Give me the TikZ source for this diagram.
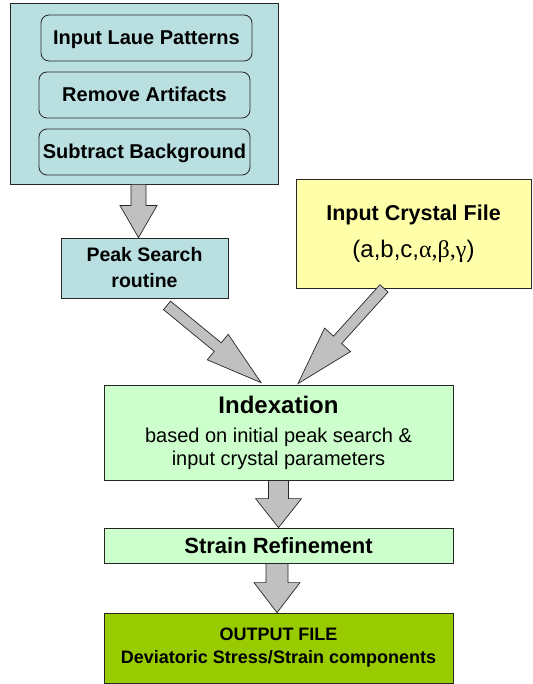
\documentclass[tikz,border=0pt]{standalone}
\usepackage{fontspec}
\setmainfont{Liberation Sans}
\newfontfamily\greekfont{Liberation Serif}
\usetikzlibrary{calc,positioning}
\definecolor{prepblue}{RGB}{185,223,225}
\definecolor{crystalyellow}{RGB}{255,255,170}
\definecolor{stepgreen}{RGB}{204,255,204}
\definecolor{outgreen}{RGB}{153,204,0}
\definecolor{arrowgray}{RGB}{192,192,192}
\tikzset{
    box/.style={draw=black!85,line width=0.8pt,inner sep=0pt,align=center},
    prepbox/.style={box,fill=prepblue,minimum width=268pt,minimum height=181pt},
    substep/.style={box,fill=prepblue,rounded corners=8pt,minimum width=211pt,minimum height=46pt,
        text height=15pt,text depth=1pt,font=\fontsize{20}{24}\selectfont\bfseries},
    peakbox/.style={box,fill=prepblue,minimum width=167pt,minimum height=60pt,
        font=\fontsize{19.5}{26}\selectfont\bfseries},
    crystalbox/.style={box,fill=crystalyellow,minimum width=235pt,minimum height=109pt,
        font=\fontsize{24}{30}\selectfont},
    stepbox/.style={box,fill=stepgreen,minimum width=349pt},
    outbox/.style={box,fill=outgreen,minimum width=349pt,minimum height=70pt,
        font=\fontsize{18}{23}\selectfont\bfseries},
    fatarrow/.style={draw=black!85,line width=0.7pt,fill=arrowgray,line join=miter},
}
% block arrow: from, to, half shaft, half head, head length
\newcommand{\blockarrow}[5]{%
    \draw[fatarrow] ($(#1)!#3!90:(#2)$) -- ($(#2)!#5!(#1)!#3!-90:(#1)$)
        -- ($(#2)!#5!(#1)!#4!-90:(#1)$) -- (#2)
        -- ($(#2)!#5!(#1)!#4!90:(#1)$) -- ($(#2)!#5!(#1)!#3!90:(#1)$)
        -- ($(#1)!#3!-90:(#2)$) -- cycle;
}

\begin{document}
\begin{tikzpicture}[x=1pt,y=-1pt]
                \useasboundingbox (0,0) rectangle (532,684);
                \node[prepbox] (prep) at (144,93.5) {};
                \node[substep] (laue) at (146.5,38) {Input Laue Patterns};
                \node[substep] (artifacts) at (144.5,95) {Remove Artifacts};
                \node[substep] (background) at (144.5,152) {Subtract Background};
                \node[peakbox] (peak) at (144.5,268) {Peak Search\\routine};
                \node[crystalbox] (crystal) at (413.5,233.5)
                    {{\fontsize{21.5}{26}\selectfont\bfseries Input Crystal File}\\[7pt]
                     (a,b,c,{\greekfont α,β,γ})};
                \node[stepbox,minimum height=95pt,font=\fontsize{20}{23}\selectfont] (index) at (278.5,432.5)
                    {{\fontsize{24}{29}\selectfont\bfseries Indexation}\\[6pt]
                     based on initial peak search \&\\
                     input crystal parameters};
                \node[stepbox,minimum height=35pt,font=\fontsize{22}{26}\selectfont\bfseries] (strain) at (278.5,545.5)
                    {Strain Refinement};
                \node[outbox] (output) at (278.5,648)
                    {OUTPUT FILE\\Deviatoric Stress/Strain components};
                % arrow ends
                \coordinate (prepout) at ($(prep.south)+(-5.5,0)$);
                \coordinate (peakin) at (prepout |- peak.north);
                \coordinate (peakout) at ($(peak.south)+(22.5,7)$);
                \coordinate (crystalout) at ($(crystal.south)+(-29.5,0)$);
                \coordinate (indexinl) at ($(index.north)+(-17.5,-2)$);
                \coordinate (indexinr) at ($(index.north)+(19.5,-1)$);
                \coordinate (indexout) at (index.south);
                \coordinate (strainin) at (index.south |- strain.north);
                \coordinate (strainout) at ($(strain.south)+(-1.5,0)$);
                \coordinate (outputin) at (strainout |- output.north);
                \blockarrow{prepout}{peakin}{7.5pt}{18.5pt}{32pt}
                \blockarrow{peakout}{indexinl}{5.5pt}{16.5pt}{56pt}
                \blockarrow{crystalout}{indexinr}{5.5pt}{17.5pt}{59pt}
                \blockarrow{indexout}{strainin}{10pt}{23pt}{29pt}
                \blockarrow{strainout}{outputin}{11pt}{23pt}{30pt}
            \end{tikzpicture}
\end{document}
